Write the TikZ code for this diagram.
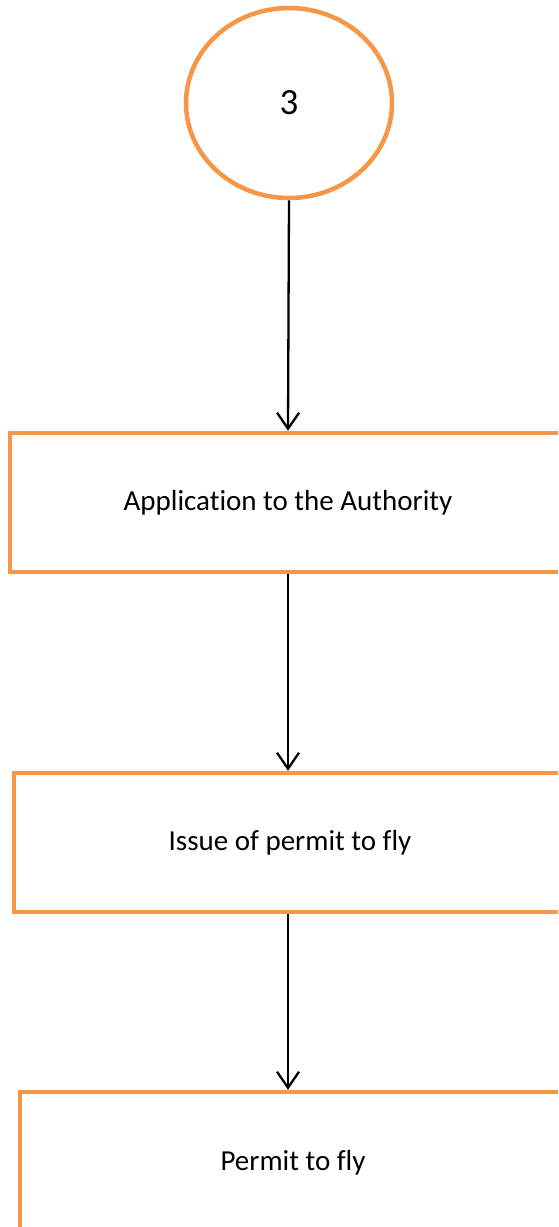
\documentclass[tikz,border=0pt]{standalone}
\usepackage{fontspec}
\setmainfont{Carlito}[Ligatures=NoCommon]
\usetikzlibrary{shapes.geometric,arrows.meta}
\definecolor{boxorange}{HTML}{F79646}
\begin{document}
\begin{tikzpicture}[x=1pt,y=-1pt,
    startnode/.style={ellipse,draw=boxorange,line width=4.5pt,fill=white,
      minimum width=206pt,minimum height=190pt,inner sep=0pt,
      font=\fontsize{37}{44}\selectfont},
    stepbox/.style={rectangle,draw=boxorange,line width=4.5pt,fill=white,
      minimum height=139pt,inner sep=0pt,font=\fontsize{29}{35}\selectfont},
    flow/.style={-{Straight Barb[length=16pt,width=22pt]},line width=2.3pt,black}]
      \useasboundingbox (0,0) rectangle (558,1227);
      \clip (0,0) rectangle (558,1227);
      \draw
        (289,103) node[startnode] (start){3}
        (288,502.5) node[stepbox,minimum width=556pt] (apply){Application to the Authority}
        (290,842.5) node[stepbox,minimum width=552pt] (issue){Issue of permit to fly}
        (293,1163) node[stepbox,minimum width=546pt,minimum height=142pt] (permit){Permit to fly};
      \begin{scope}[flow]
        \draw (start.south) to (apply.north);
        \draw (apply.south) to (apply.south |- issue.north);
        \draw (apply.south |- issue.south) to (apply.south |- permit.north);
      \end{scope}
    \end{tikzpicture}
\end{document}
